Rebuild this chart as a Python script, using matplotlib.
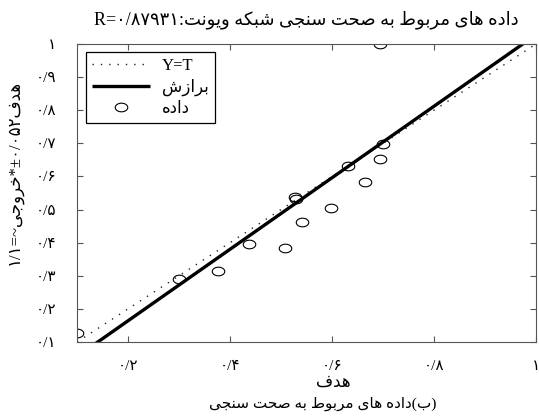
import numpy as np
import matplotlib
matplotlib.use("Agg")
import matplotlib.pyplot as plt
from matplotlib.path import Path
from matplotlib.font_manager import findfont, FontProperties
from matplotlib.ft2font import FT2Font

# ---- data ---------------------------------------------------------------
targets = [0.100, 0.300, 0.377, 0.437, 0.507, 0.542, 0.527, 0.530,
           0.599, 0.632, 0.665, 0.694, 0.700, 0.694]
outputs = [0.127, 0.289, 0.313, 0.397, 0.383, 0.463, 0.538, 0.532,
           0.505, 0.632, 0.583, 0.652, 0.697, 1.000]
fit_slope = 1.08
fit_intercept = -0.052
r_value = 0.87931
x_ticks = [0.2, 0.4, 0.6, 0.8, 1.0]
y_ticks = [0.1, 0.2, 0.3, 0.4, 0.5, 0.6, 0.7, 0.8, 0.9, 1.0]

title_text = "داده های مربوط به صحت سنجی شبکه ویونت"
xlabel_text = "هدف"
caption_text = "(ب)داده های مربوط به صحت سنجی"
legend_labels = ["Y=T", "برازش", "داده"]

# ---- simple Persian shaping + right-to-left ordering -------------------
_cmap = FT2Font(findfont(FontProperties(family="DejaVu Sans"))).get_charmap()


def _pick(primary, fallback):
    return primary if all(c in _cmap for c in primary) else fallback


# isolated, final, initial, medial
FORMS = {
    "ا": (0xFE8D, 0xFE8E, None, None),
    "ب": (0xFE8F, 0xFE90, 0xFE91, 0xFE92),
    "ت": (0xFE95, 0xFE96, 0xFE97, 0xFE98),
    "ج": (0xFE9D, 0xFE9E, 0xFE9F, 0xFEA0),
    "ح": (0xFEA1, 0xFEA2, 0xFEA3, 0xFEA4),
    "خ": (0xFEA5, 0xFEA6, 0xFEA7, 0xFEA8),
    "د": (0xFEA9, 0xFEAA, None, None),
    "ر": (0xFEAD, 0xFEAE, None, None),
    "ز": (0xFEAF, 0xFEB0, None, None),
    "س": (0xFEB1, 0xFEB2, 0xFEB3, 0xFEB4),
    "ش": (0xFEB5, 0xFEB6, 0xFEB7, 0xFEB8),
    "ص": (0xFEB9, 0xFEBA, 0xFEBB, 0xFEBC),
    "ط": (0xFEC1, 0xFEC2, 0xFEC3, 0xFEC4),
    "ف": (0xFED1, 0xFED2, 0xFED3, 0xFED4),
    "ک": _pick((0xFB8E, 0xFB8F, 0xFB90, 0xFB91), (0xFED9, 0xFEDA, 0xFEDB, 0xFEDC)),
    "م": (0xFEE1, 0xFEE2, 0xFEE3, 0xFEE4),
    "ن": (0xFEE5, 0xFEE6, 0xFEE7, 0xFEE8),
    "ه": (0xFEE9, 0xFEEA, 0xFEEB, 0xFEEC),
    "و": (0xFEED, 0xFEEE, None, None),
    "ی": _pick((0xFBFC, 0xFBFD, 0xFBFE, 0xFBFF), (0xFEEF, 0xFEF0, 0xFEF3, 0xFEF4)),
}


def shape(word):
    out = []
    n = len(word)
    for i, ch in enumerate(word):
        if ch not in FORMS:
            out.append(ch)
            continue
        iso, fin, ini, med = FORMS[ch]
        prev = word[i - 1] if i > 0 else None
        nxt = word[i + 1] if i < n - 1 else None
        jp = prev in FORMS and FORMS[prev][2] is not None
        jn = nxt in FORMS and ini is not None
        if jp and jn:
            cp = med
        elif jp:
            cp = fin
        elif jn:
            cp = ini
        else:
            cp = iso
        out.append(chr(cp))
    return "".join(out)


MIRROR = {"(": ")", ")": "("}


def _is_ltr(ch):
    return (ch.isascii() and ch.isalnum()) or "\u06F0" <= ch <= "\u06F9"


def rtl(text):
    """Shape Persian letters and lay out a right-to-left paragraph."""
    shaped = shape(text)
    kinds = []
    for ch in shaped:
        if _is_ltr(ch):
            kinds.append("L")
        elif ch in FORMS or "\uFB50" <= ch <= "\uFEFF":
            kinds.append("R")
        else:
            kinds.append("N")
    for i, k in enumerate(kinds):
        if k == "N":
            left = next((kinds[j] for j in range(i - 1, -1, -1) if kinds[j] != "N"), "R")
            right = next((kinds[j] for j in range(i + 1, len(kinds)) if kinds[j] != "N"), "R")
            kinds[i] = "L" if (left == "L" and right == "L") else "R"
    runs = []
    for ch, k in zip(shaped, kinds):
        if runs and runs[-1][0] == k:
            runs[-1][1].append(ch)
        else:
            runs.append([k, [ch]])
    pieces = []
    for k, chars in reversed(runs):
        if k == "R":
            pieces.append("".join(MIRROR.get(c, c) for c in reversed(chars)))
        else:
            pieces.append("".join(chars))
    return "".join(pieces)


FA_DIGITS = str.maketrans("0123456789.", "۰۱۲۳۴۵۶۷۸۹/")


def fa_num(v, fmt="{:g}"):
    return fmt.format(v).translate(FA_DIGITS)


plt.rcParams["font.family"] = ["Liberation Serif", "DejaVu Sans"]

# ---- figure -------------------------------------------------------------
W, H = 539, 417
fig = plt.figure(figsize=(W / 100, H / 100), dpi=100)
ax = fig.add_axes([77 / W, 75 / H, 459 / W, 298 / H])

lo = min(min(targets), min(outputs))
hi = max(max(targets), max(outputs))
ax.set_xlim(lo, hi)
ax.set_ylim(lo, hi)

line_x = np.array([lo, hi])
ax.plot(line_x, line_x, linestyle=(0, (1, 5)), color="#222222",
        linewidth=1.0, label=legend_labels[0])
ax.plot(line_x, fit_slope * line_x + fit_intercept, color="black",
        linewidth=2.4, solid_capstyle="butt", label=rtl(legend_labels[1]))

theta = np.linspace(0, 2 * np.pi, 60)
ellipse = Path(np.column_stack([1.45 * np.cos(theta), np.sin(theta)]), closed=True)
ax.plot(targets, outputs, linestyle="none", marker=ellipse, markersize=9,
        markerfacecolor="none", markeredgecolor="black", markeredgewidth=0.8,
        label=rtl(legend_labels[2]))

ax.set_xticks(x_ticks)
ax.set_yticks(y_ticks)
ax.set_xticklabels([fa_num(v) for v in x_ticks], fontsize=11)
ax.set_yticklabels([fa_num(v) for v in y_ticks], fontsize=11)
ax.tick_params(axis="both", direction="in", top=True, right=True, length=4,
               width=0.8, color="#555555")
ax.tick_params(axis="x", pad=13)
ax.tick_params(axis="y", pad=15)
for sp in ax.spines.values():
    sp.set_color("#555555")
    sp.set_linewidth(0.8)

leg = ax.legend(loc="upper left", bbox_to_anchor=(9 / 459, 1 - 8 / 298),
                borderaxespad=0, fancybox=False, framealpha=1,
                edgecolor="black", fontsize=12, handlelength=3.5,
                handletextpad=0.7, labelspacing=0.3, borderpad=0.35)
leg.get_frame().set_linewidth(0.9)

# title, axis captions
r_str = "{:.5f}".format(r_value).translate(FA_DIGITS)
title = rtl(title_text + ":R=" + r_str)
fig.text(306 / W, 1 - 20 / H, title, ha="center", va="center", fontsize=13)
fig.text(333 / W, 1 - 383 / H, rtl(xlabel_text), ha="center", va="center",
         fontsize=12)
fig.text(323 / W, 1 - 404 / H, rtl(caption_text), ha="center", va="center",
         fontsize=11)

slope_str = "{:.2g}".format(fit_slope).translate(FA_DIGITS)
icpt_str = "{:.2g}".format(abs(fit_intercept)).translate(FA_DIGITS)
ylab = slope_str + "=~" + rtl("خروجی") + "*" + "\u00B1" + icpt_str + rtl("هدف")
fig.text(15 / W, 1 - 172 / H, ylab, ha="center", va="center", rotation=90,
         fontsize=12)

fig.savefig("out.png", dpi=100)
